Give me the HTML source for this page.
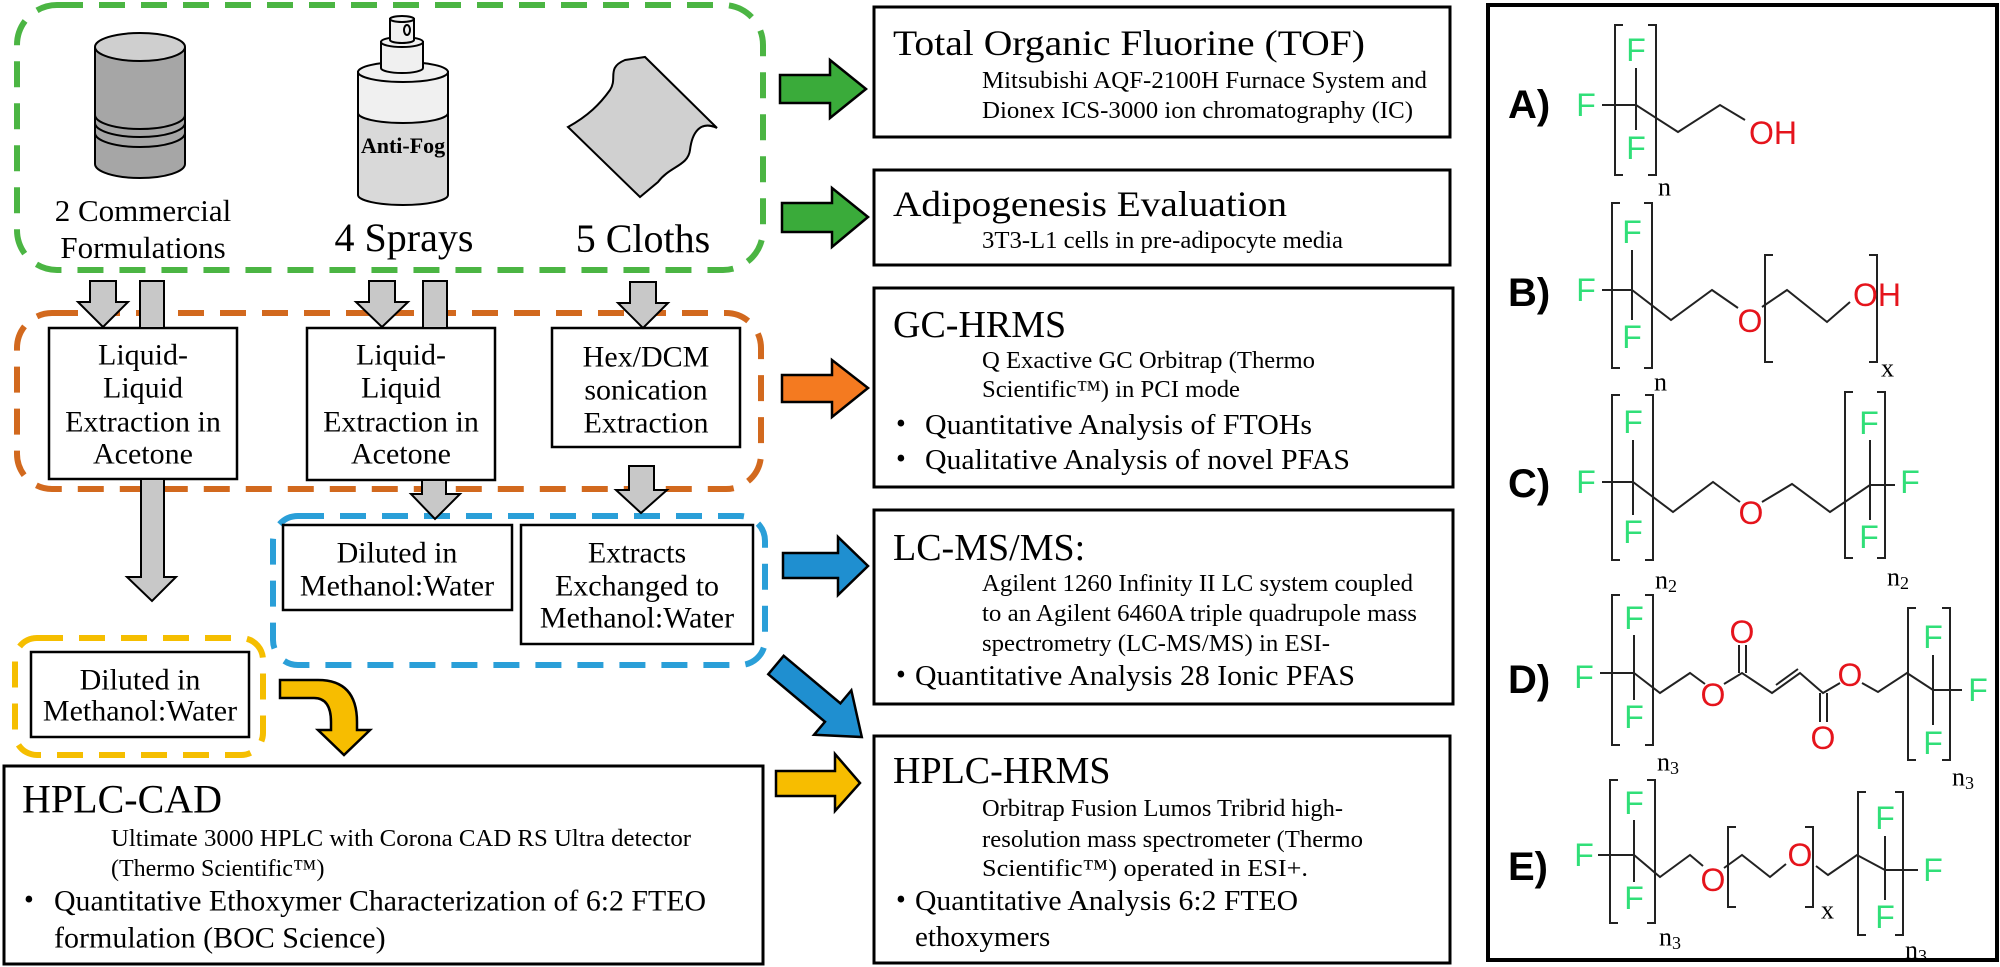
<!DOCTYPE html>
<html><head><meta charset="utf-8"><style>
html,body{margin:0;padding:0;background:#fff;}
svg{display:block;}
svg text{font-family:"Liberation Serif","Times New Roman",Times,serif;}
svg text.s, svg .s text{font-family:"Liberation Sans",Arial,Helvetica,sans-serif;}
.g{fill:#30df78;}
.r{fill:#e5141c;}
</style></head><body>
<svg width="2000" height="967" viewBox="0 0 2000 967" xmlns="http://www.w3.org/2000/svg" font-family="Liberation Serif, Times New Roman, serif">
<!-- dashed groups -->
<rect x="17" y="5" width="746" height="265" rx="40" fill="none" stroke="#4bb543" stroke-width="6" stroke-dasharray="26,16"/>
<rect x="17" y="313" width="744" height="176" rx="35" fill="none" stroke="#d2691e" stroke-width="6" stroke-dasharray="26,16"/>
<rect x="273" y="516" width="492" height="149" rx="25" fill="none" stroke="#2a9fd8" stroke-width="6" stroke-dasharray="26,16"/>
<rect x="15" y="638" width="248" height="117" rx="22" fill="none" stroke="#f5be00" stroke-width="6" stroke-dasharray="26,16"/>

<!-- can -->
<g stroke="#000" stroke-width="2">
<path d="M95,47 L95,164 A45,14 0 0 0 185,164 L185,47" fill="#a6a6a6"/>
<ellipse cx="140" cy="47" rx="45" ry="14" fill="#cfcfcf"/>
<path d="M95,115 A45,14 0 0 0 185,115" fill="none"/>
<path d="M95,123 A45,14 0 0 0 185,123" fill="none"/>
<path d="M95,133 A45,14 0 0 0 185,133" fill="none"/>
</g>
<!-- spray -->
<g stroke="#000" stroke-width="2">
<path d="M358,72 L358,195 A45,10 0 0 0 448,195 L448,72 Z" fill="#d9d9d9"/>
<path d="M358,72 L358,113 A45,10 0 0 0 448,113 L448,72 Z" fill="#f0f0f0"/>
<ellipse cx="403" cy="72" rx="45" ry="10" fill="#f0f0f0"/>
<path d="M381,42 L381,68 A21,5 0 0 0 423,68 L423,42 Z" fill="#f0f0f0"/>
<ellipse cx="402" cy="42" rx="21" ry="5" fill="#f0f0f0"/>
<path d="M390,19 L390,40 A12,3 0 0 0 414,40 L414,19 Z" fill="#f0f0f0"/>
<ellipse cx="402" cy="19" rx="12" ry="3" fill="#f0f0f0"/>
<ellipse cx="407" cy="30" rx="3" ry="5" fill="none"/>
</g>
<text x="403" y="153" text-anchor="middle" font-size="22" font-weight="bold">Anti-Fog</text>
<!-- cloth -->
<path d="M568,127 C588,116 600,104 610,90 C618,78 606,68 625,60 L645,57 L717,128 C700,120 692,133 690,150 C688,166 670,166 658,182 L640,197 Z" fill="#d0d0d0" stroke="#000" stroke-width="2"/>

<g font-size="31" text-anchor="middle">
<text x="143" y="221">2 Commercial</text>
<text x="143" y="258">Formulations</text>
</g>
<g font-size="40" text-anchor="middle">
<text x="404" y="251">4 Sprays</text>
<text x="643" y="252">5 Cloths</text>
</g>

<!-- process boxes -->
<g fill="#fff" stroke="#000" stroke-width="2.5">
<rect x="49" y="328" width="188" height="151"/>
<rect x="307" y="328" width="188" height="152"/>
<rect x="552" y="328" width="188" height="119"/>
<rect x="283" y="525" width="229" height="85"/>
<rect x="521" y="525" width="232" height="119"/>
<rect x="31" y="652" width="218" height="85"/>
</g>
<g font-size="30" text-anchor="middle" dominant-baseline="central">
<text x="143" y="355">Liquid-</text><text x="143" y="388">Liquid</text><text x="143" y="422">Extraction in</text><text x="143" y="454">Acetone</text>
<text x="401" y="355">Liquid-</text><text x="401" y="388">Liquid</text><text x="401" y="422">Extraction in</text><text x="401" y="454">Acetone</text>
<text x="646" y="357">Hex/DCM</text><text x="646" y="390">sonication</text><text x="646" y="423">Extraction</text>
<text x="397" y="553">Diluted in</text><text x="397" y="586">Methanol:Water</text>
<text x="637" y="553">Extracts</text><text x="637" y="586">Exchanged to</text><text x="637" y="618">Methanol:Water</text>
<text x="140" y="680">Diluted in</text><text x="140" y="711">Methanol:Water</text>
</g>

<!-- gray arrows -->
<g fill="#c8c8c8" stroke="#000" stroke-width="2">
<path d="M90,281 L116,281 L116,302 L128,302 L103,327 L78,302 L90,302 Z"/>
<rect x="140" y="281" width="24" height="47"/>
<path d="M369,281 L395,281 L395,302 L408,302 L382,327 L356,302 L369,302 Z"/>
<rect x="423" y="281" width="24" height="47"/>
<path d="M630,282 L656,282 L656,303 L668,303 L643,328 L618,303 L630,303 Z"/>
<path d="M141,479 L164,479 L164,577 L176,577 L152,601 L127,577 L141,577 Z"/>
<path d="M422,480 L446,480 L446,494 L460,494 L435,519 L411,494 L422,494 Z"/>
<path d="M629,466 L654,466 L654,490 L667,490 L641,513 L616,490 L629,490 Z"/>
</g>

<!-- colored arrows -->
<g stroke="#000" stroke-width="2.5">
<path d="M780,75 L830,75 L830,60 L866,89 L830,118 L830,103 L780,103 Z" fill="#3aab3a"/>
<path d="M782,203 L832,203 L832,188 L868,217 L832,247 L832,232 L782,232 Z" fill="#3aab3a"/>
<path d="M782,375 L832,375 L832,360 L868,388 L832,417 L832,402 L782,402 Z" fill="#f47a20"/>
<path d="M783,553 L838,553 L838,537 L868,566 L838,595 L838,578 L783,578 Z" fill="#1f8fd0"/>
<path d="M0,-12 L74,-12 L74,-29 L112,0 L74,29 L74,12 L0,12 Z" fill="#1f8fd0" transform="translate(776,665) rotate(40)"/>
<path d="M776,771 L835,771 L835,754 L860,783 L835,811 L835,796 L776,796 Z" fill="#f7bd00"/>
<path d="M280,680 L318,680 Q357,680 357,722 L357,730 L370,730 L344,755 L318,730 L331,730 L331,722 Q331,698 314,698 L280,698 Z" fill="#f7bd00"/>
</g>

<!-- method boxes -->
<g fill="none" stroke="#000" stroke-width="3">
<rect x="874" y="7" width="576" height="130"/>
<rect x="874" y="170" width="576" height="95"/>
<rect x="874" y="288" width="579" height="199"/>
<rect x="874" y="510" width="579" height="194"/>
<rect x="874" y="736" width="576" height="227"/>
<rect x="4" y="766" width="759" height="198"/>
<rect x="1488" y="5" width="509" height="955" stroke-width="4"/>
</g>
<g dominant-baseline="central">
<text x="893" y="43" font-size="36" textLength="472" lengthAdjust="spacingAndGlyphs">Total Organic Fluorine (TOF)</text>
<text x="982" y="81" font-size="24" textLength="445" lengthAdjust="spacingAndGlyphs">Mitsubishi AQF-2100H Furnace System and</text>
<text x="982" y="111" font-size="24" textLength="431" lengthAdjust="spacingAndGlyphs">Dionex ICS-3000 ion chromatography (IC)</text>
<text x="893" y="204" font-size="36" textLength="394" lengthAdjust="spacingAndGlyphs">Adipogenesis Evaluation</text>
<text x="982" y="241" font-size="24" textLength="361" lengthAdjust="spacingAndGlyphs">3T3-L1 cells in pre-adipocyte media</text>
<text x="893" y="325" font-size="38">GC-HRMS</text>
<text x="982" y="361" font-size="24" textLength="333" lengthAdjust="spacingAndGlyphs">Q Exactive GC Orbitrap (Thermo</text>
<text x="982" y="390" font-size="24" textLength="258" lengthAdjust="spacingAndGlyphs">Scientific™) in PCI mode</text>
<text x="896" y="424" font-size="28">•</text>
<text x="925" y="425" font-size="29" textLength="387" lengthAdjust="spacingAndGlyphs">Quantitative Analysis of FTOHs</text>
<text x="896" y="459" font-size="28">•</text>
<text x="925" y="460" font-size="29" textLength="425" lengthAdjust="spacingAndGlyphs">Qualitative Analysis of novel PFAS</text>
<text x="893" y="548" font-size="38">LC-MS/MS:</text>
<text x="982" y="584" font-size="24" textLength="431" lengthAdjust="spacingAndGlyphs">Agilent 1260 Infinity II LC system coupled</text>
<text x="982" y="614" font-size="24" textLength="435" lengthAdjust="spacingAndGlyphs">to an Agilent 6460A triple quadrupole mass</text>
<text x="982" y="644" font-size="24" textLength="348" lengthAdjust="spacingAndGlyphs">spectrometry (LC-MS/MS) in ESI-</text>
<text x="896" y="675" font-size="28">•</text>
<text x="915" y="676" font-size="29" textLength="440" lengthAdjust="spacingAndGlyphs">Quantitative Analysis 28 Ionic PFAS</text>
<text x="893" y="771" font-size="38">HPLC-HRMS</text>
<text x="982" y="809" font-size="24" textLength="361" lengthAdjust="spacingAndGlyphs">Orbitrap Fusion Lumos Tribrid high-</text>
<text x="982" y="840" font-size="24" textLength="381" lengthAdjust="spacingAndGlyphs">resolution mass spectrometer (Thermo</text>
<text x="982" y="869" font-size="24" textLength="326" lengthAdjust="spacingAndGlyphs">Scientific™) operated in ESI+.</text>
<text x="896" y="900" font-size="28">•</text>
<text x="915" y="901" font-size="29" textLength="383" lengthAdjust="spacingAndGlyphs">Quantitative Analysis 6:2 FTEO</text>
<text x="915" y="937" font-size="29">ethoxymers</text>
<text x="22" y="799" font-size="40">HPLC-CAD</text>
<text x="111" y="839" font-size="24" textLength="580" lengthAdjust="spacingAndGlyphs">Ultimate 3000 HPLC with Corona CAD RS Ultra detector</text>
<text x="111" y="869" font-size="24">(Thermo Scientific™)</text>
<text x="24" y="900" font-size="28">•</text>
<text x="54" y="901" font-size="30" textLength="652" lengthAdjust="spacingAndGlyphs">Quantitative Ethoxymer Characterization of 6:2 FTEO</text>
<text x="54" y="938" font-size="30">formulation (BOC Science)</text>
</g>

<!-- structures -->
<g class="s" font-family="Liberation Sans, Arial, sans-serif" font-weight="bold" font-size="40" dominant-baseline="central">
<text x="1508" y="105">A)</text>
<text x="1508" y="293">B)</text>
<text x="1508" y="484">C)</text>
<text x="1508" y="680">D)</text>
<text x="1508" y="867">E)</text>
</g>
<g fill="none" stroke="#222" stroke-width="2">
<path d="M1623,25 L1615,25 L1615,175 L1623,175 M1648,25 L1656,25 L1656,175 L1648,175"/>
<path d="M1636,68 L1636,130 M1602,105 L1636,105 L1678,132 L1720,105 L1745,120"/>
<path d="M1620,203 L1612,203 L1612,368 L1620,368 M1644,203 L1652,203 L1652,368 L1644,368"/>
<path d="M1632,250 L1632,320 M1602,290 L1632,290 L1671,320 L1712,290 L1738,308 M1762,307 L1787,290 L1827,322 L1850,302"/>
<path d="M1773,255 L1765,255 L1765,362 L1773,362 M1869,255 L1877,255 L1877,362 L1869,362"/>
<path d="M1620,395 L1612,395 L1612,560 L1620,560 M1645,395 L1653,395 L1653,560 L1645,560"/>
<path d="M1633,440 L1633,515 M1602,482 L1633,482 L1673,512 L1713,482 L1740,502 M1762,502 L1792,484 L1830,512 L1870,485 L1895,485 M1870,440 L1870,520"/>
<path d="M1853,392 L1845,392 L1845,558 L1853,558 M1877,392 L1885,392 L1885,558 L1877,558"/>
<path d="M1620,595 L1612,595 L1612,745 L1620,745 M1645,595 L1653,595 L1653,745 L1645,745"/>
<path d="M1634,635 L1634,700 M1600,673 L1634,673 L1660,693 L1690,673 L1705,684 M1724,684 L1742,673 L1772,693 L1800,673 L1823,693 L1840,683 M1862,683 L1878,692 L1907,673 L1933,690 L1962,690 M1933,655 L1933,725"/>
<path d="M1739,673 L1739,645 M1746,673 L1746,645 M1820,693 L1820,722 M1827,693 L1827,722 M1776,685 L1798,669"/>
<path d="M1916,608 L1908,608 L1908,760 L1916,760 M1942,608 L1950,608 L1950,760 L1942,760"/>
<path d="M1618,780 L1610,780 L1610,923 L1618,923 M1647,780 L1655,780 L1655,923 L1647,923"/>
<path d="M1634,820 L1634,882 M1598,855 L1634,855 L1660,877 L1690,855 L1703,866 M1724,868 L1742,855 L1770,877 L1786,864 M1816,866 L1828,875 L1857,855 L1885,870 L1918,870 M1885,836 L1885,900"/>
<path d="M1736,827 L1728,827 L1728,907 L1736,907 M1805,827 L1813,827 L1813,907 L1805,907"/>
<path d="M1866,792 L1858,792 L1858,935 L1866,935 M1895,792 L1903,792 L1903,935 L1895,935"/>
</g>
<g class="s" font-family="Liberation Sans, Arial, sans-serif" font-size="32" text-anchor="middle" dominant-baseline="central">
<text class="g" x="1586" y="105">F</text><text class="g" x="1636" y="50">F</text><text class="g" x="1636" y="148">F</text>
<text class="r" x="1773" y="133">OH</text>
<text class="g" x="1586" y="290">F</text><text class="g" x="1632" y="232">F</text><text class="g" x="1632" y="337">F</text>
<text class="r" x="1750" y="321">O</text><text class="r" x="1877" y="295">OH</text>
<text class="g" x="1586" y="482">F</text><text class="g" x="1633" y="422">F</text><text class="g" x="1633" y="532">F</text>
<text class="r" x="1751" y="513">O</text>
<text class="g" x="1869" y="423">F</text><text class="g" x="1869" y="537">F</text><text class="g" x="1910" y="482">F</text>
<text class="g" x="1584" y="677">F</text><text class="g" x="1634" y="618">F</text><text class="g" x="1634" y="717">F</text>
<text class="r" x="1713" y="695">O</text><text class="r" x="1742" y="632">O</text><text class="r" x="1823" y="738">O</text><text class="r" x="1850" y="675">O</text>
<text class="g" x="1933" y="637">F</text><text class="g" x="1933" y="743">F</text><text class="g" x="1978" y="690">F</text>
<text class="g" x="1584" y="855">F</text><text class="g" x="1634" y="803">F</text><text class="g" x="1634" y="898">F</text>
<text class="r" x="1713" y="880">O</text><text class="r" x="1800" y="855">O</text>
<text class="g" x="1885" y="818">F</text><text class="g" x="1885" y="917">F</text><text class="g" x="1933" y="870">F</text>
</g>
<g font-size="26" dominant-baseline="central">
<text x="1658" y="187">n</text>
<text x="1654" y="382">n</text><text x="1881" y="368">x</text>
<text x="1655" y="580">n<tspan font-size="18" dy="6">2</tspan></text>
<text x="1887" y="577">n<tspan font-size="18" dy="6">2</tspan></text>
<text x="1657" y="762">n<tspan font-size="18" dy="6">3</tspan></text>
<text x="1952" y="777">n<tspan font-size="18" dy="6">3</tspan></text>
<text x="1659" y="937">n<tspan font-size="18" dy="6">3</tspan></text>
<text x="1821" y="910">x</text>
<text x="1905" y="950">n<tspan font-size="18" dy="6">3</tspan></text>
</g>
</svg>
</body></html>
